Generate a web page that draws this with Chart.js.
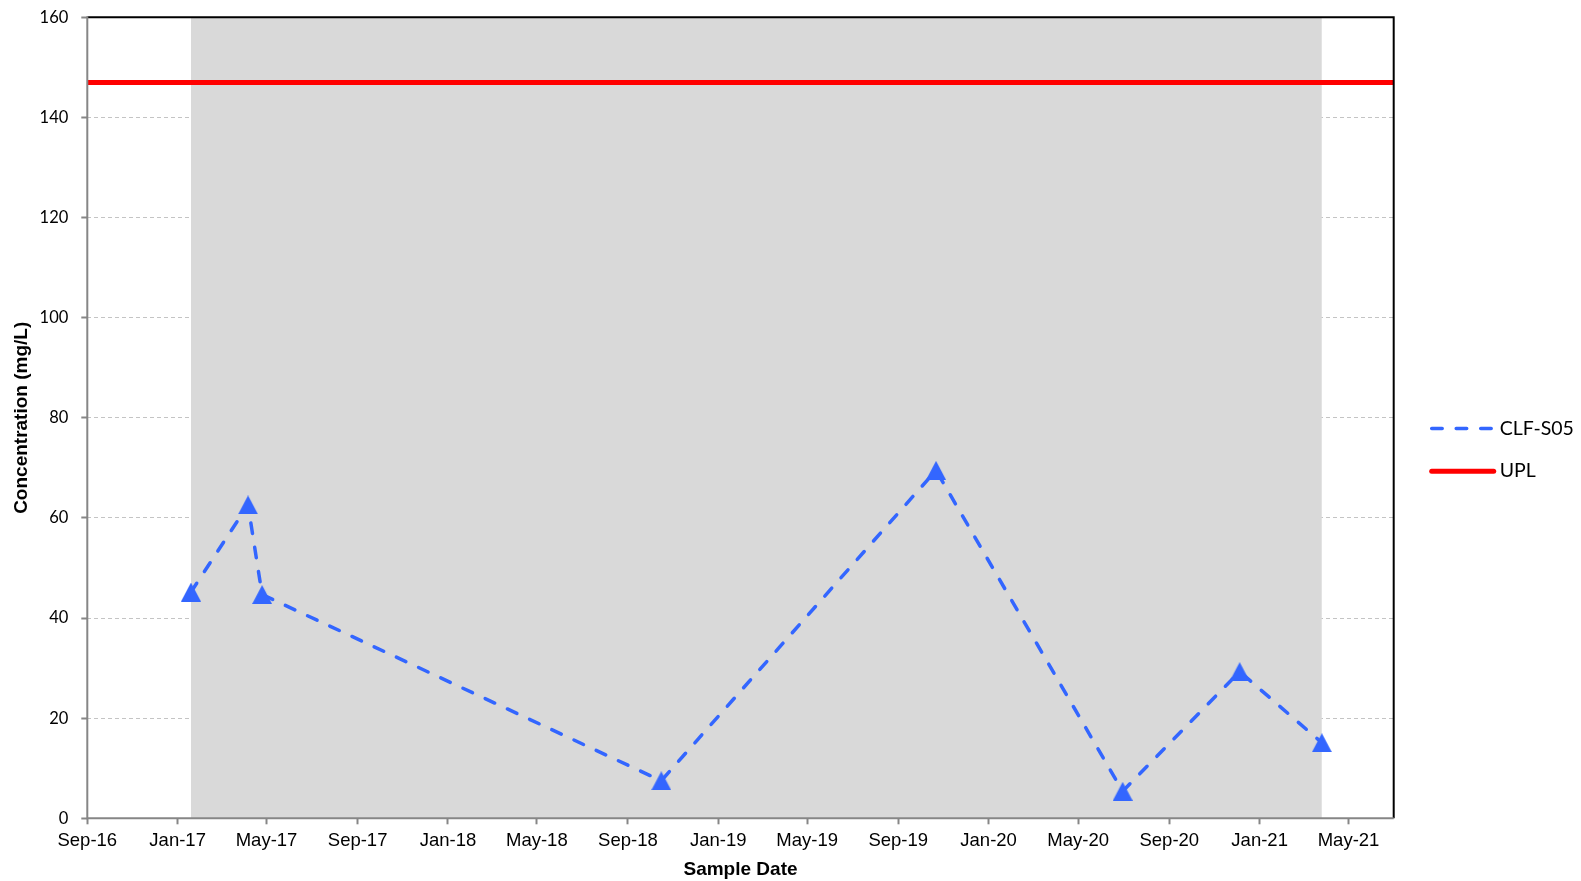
<!DOCTYPE html>
<html>
<head>
<meta charset="utf-8">
<title>CLF-S05 Concentration</title>
<script src="https://cdn.jsdelivr.net/npm/chart.js@4.4.1/dist/chart.umd.min.js"></script>
<style>
  html, body { margin: 0; padding: 0; background: #ffffff; }
  canvas { display: block; }
</style>
</head>
<body>
<canvas id="chart" width="1581" height="881"></canvas>
<script>
// ---- data ----
const sampleDates = ['2017-01-19', '2017-04-06', '2017-04-25', '2018-10-16',
                     '2019-10-22', '2020-06-30', '2020-12-05', '2021-03-26'];
const clfS05 = [45.2, 62.6, 44.7, 7.5, 69.5, 5.4, 29.3, 15.1];
const uplValue = 147;

const axisStart = '2016-09-01';
const axisEnd = '2021-07-01';
const tickDates = ['2016-09-01', '2017-01-01', '2017-05-01', '2017-09-01', '2018-01-01',
                   '2018-05-01', '2018-09-01', '2019-01-01', '2019-05-01', '2019-09-01',
                   '2020-01-01', '2020-05-01', '2020-09-01', '2021-01-01', '2021-05-01'];
const tickLabels = ['Sep-16', 'Jan-17', 'May-17', 'Sep-17', 'Jan-18', 'May-18', 'Sep-18', 'Jan-19',
                    'May-19', 'Sep-19', 'Jan-20', 'May-20', 'Sep-20', 'Jan-21', 'May-21'];
const yMin = 0, yMax = 160, yStep = 20;

// ---- helpers ----
function toTime(s) {
  const [y, m, d] = s.split('-').map(Number);
  return Date.UTC(y, m - 1, d);
}

// triangle marker centred on its bounding box
function makeTriangle(color, w, h) {
  const c = document.createElement('canvas');
  c.width = w; c.height = h;
  const g = c.getContext('2d');
  g.fillStyle = color;
  g.beginPath();
  g.moveTo(w / 2, 0);
  g.lineTo(w, h);
  g.lineTo(0, h);
  g.closePath();
  g.fill();
  return c;
}

const blue = '#3366ff';
const red = '#ff0000';

const seriesPoints = sampleDates.map((d, i) => ({ x: toTime(d), y: clfS05[i] }));
const shadePoints = [
  { x: toTime(sampleDates[0]), y: yMax },
  { x: toTime(sampleDates[sampleDates.length - 1]), y: yMax }
];
const uplPoints = [
  { x: toTime(axisStart), y: uplValue },
  { x: toTime(axisEnd), y: uplValue }
];

// plot frame: grey axes on left/bottom, black border top/right
const framePlugin = {
  id: 'frame',
  afterDatasetsDraw(chart) {
    const { ctx, chartArea: a } = chart;
    ctx.save();
    ctx.lineWidth = 2;
    ctx.strokeStyle = '#000000';
    ctx.beginPath();
    ctx.moveTo(a.left, a.top);
    ctx.lineTo(a.right, a.top);
    ctx.lineTo(a.right, a.bottom);
    ctx.stroke();
    ctx.strokeStyle = '#868686';
    ctx.beginPath();
    ctx.moveTo(a.left, a.top - 1);
    ctx.lineTo(a.left, a.bottom);
    ctx.lineTo(a.right, a.bottom);
    ctx.stroke();
    ctx.restore();
  }
};

// legend on the right: line sample + label for each named series
const sideLegend = {
  id: 'sideLegend',
  afterDraw(chart) {
    const { ctx, chartArea: a } = chart;
    const x0 = a.right + 38;
    const lineLen = 62;
    let y = 428.5;
    ctx.save();
    ctx.font = '19.5px Lato';
    ctx.textBaseline = 'middle';
    ctx.textAlign = 'left';
    chart.data.datasets.forEach(ds => {
      if (!ds.label) return;
      ctx.beginPath();
      ctx.strokeStyle = ds.borderColor;
      ctx.lineWidth = ds.borderWidth;
      ctx.lineCap = 'round';
      ctx.setLineDash(ds.borderDash || []);
      ctx.moveTo(x0, y);
      ctx.lineTo(x0 + lineLen, y);
      ctx.stroke();
      ctx.setLineDash([]);
      ctx.fillStyle = '#000000';
      ctx.fillText(ds.label, x0 + lineLen + 6, y);
      y += 42.7;
    });
    ctx.restore();
  }
};

new Chart(document.getElementById('chart'), {
  type: 'line',
  data: {
    datasets: [
      {
        label: 'CLF-S05',
        data: seriesPoints,
        borderColor: blue,
        backgroundColor: blue,
        borderWidth: 3.5,
        borderDash: [10.5, 14],
        borderCapStyle: 'round',
        pointStyle: makeTriangle(blue, 20, 19),
        pointRadius: 10,
        pointHoverRadius: 10,
        fill: false,
        tension: 0,
        order: 0
      },
      {
        label: 'UPL',
        data: uplPoints,
        borderColor: red,
        backgroundColor: red,
        borderWidth: 5,
        pointRadius: 0,
        fill: false,
        order: 1
      },
      {
        label: '',
        data: shadePoints,
        borderWidth: 0,
        borderColor: 'rgba(0,0,0,0)',
        backgroundColor: '#d9d9d9',
        pointRadius: 0,
        fill: 'origin',
        order: 2
      }
    ]
  },
  options: {
    responsive: false,
    animation: false,
    devicePixelRatio: 1,
    layout: { padding: { left: 0, top: 17.3, right: 187.3, bottom: 0 } },
    plugins: {
      legend: { display: false },
      tooltip: { enabled: false }
    },
    scales: {
      x: {
        type: 'linear',
        min: toTime(axisStart),
        max: toTime(axisEnd),
        afterBuildTicks: s => { s.ticks = tickDates.map(d => ({ value: toTime(d) })); },
        afterFit: s => {
          s.height = 62.7;
          s.paddingLeft = 0;
          s.paddingRight = 0;
        },
        ticks: {
          autoSkip: false,
          maxRotation: 0,
          padding: 6,
          color: '#000000',
          font: { family: '"Liberation Sans", Arial, sans-serif', size: 18.5 },
          callback: (v, i) => tickLabels[i]
        },
        grid: {
          drawOnChartArea: false,
          drawTicks: true,
          tickLength: 6,
          tickColor: '#868686',
          tickWidth: 2
        },
        border: { display: false },
        title: {
          display: true,
          text: 'Sample Date',
          color: '#000000',
          font: { family: '"Liberation Sans", Arial, sans-serif', size: 19, weight: 'bold' },
          padding: { top: 0, bottom: 0 }
        }
      },
      y: {
        min: yMin,
        max: yMax,
        afterFit: s => {
          s.width = 87.3;
          s.paddingTop = 0;
          s.paddingBottom = 0;
        },
        ticks: {
          stepSize: yStep,
          padding: 13,
          color: '#000000',
          font: { family: 'Lato, sans-serif', size: 16.5 }
        },
        grid: {
          color: '#c4c4c4',
          lineWidth: 1,
          drawTicks: true,
          tickLength: 6,
          tickColor: '#868686',
          tickWidth: 2,
          tickBorderDash: []
        },
        border: { display: false, dash: [4, 3] },
        title: {
          display: true,
          text: 'Concentration (mg/L)',
          color: '#000000',
          font: { family: '"Liberation Sans", Arial, sans-serif', size: 19, weight: 'bold' },
          padding: { top: 10, bottom: 0 }
        }
      }
    }
  },
  plugins: [framePlugin, sideLegend]
});
</script>
</body>
</html>
